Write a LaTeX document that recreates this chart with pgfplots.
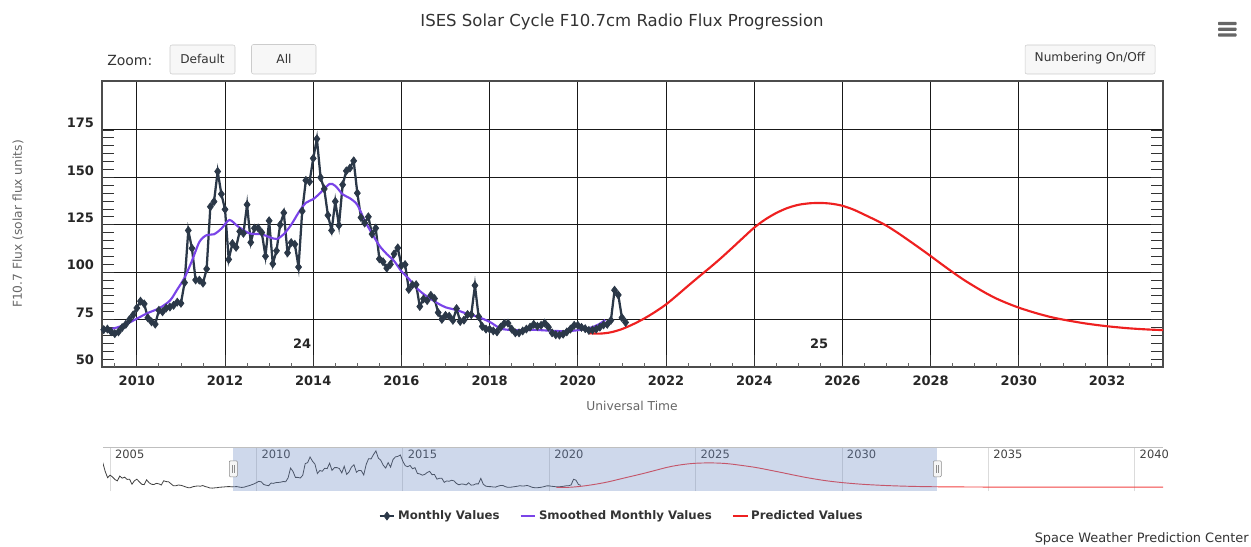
\documentclass[border=0pt]{standalone}
\usepackage{fontspec}
\setmainfont{DejaVu Sans}
\usepackage{pgfplots}
\pgfplotsset{compat=1.18}
\usepackage{pgfplotstable}

\definecolor{monthly}{RGB}{43,56,72}
\definecolor{smoothc}{RGB}{122,68,232}
\definecolor{predc}{RGB}{238,32,32}
\definecolor{txt}{RGB}{51,51,51}
\definecolor{axtitle}{RGB}{102,102,102}
\definecolor{maskc}{RGB}{102,133,194}
\definecolor{btn}{RGB}{247,247,247}
\definecolor{btnb}{RGB}{204,204,204}

\pgfplotstableread{
x y
2004.750 138.0
2004.833 113.2
2004.917 95.0
2005.000 102.2
2005.083 97.2
2005.167 89.9
2005.250 86.0
2005.333 99.5
2005.417 93.7
2005.500 96.4
2005.583 90.2
2005.667 90.8
2005.750 76.7
2005.833 86.3
2005.917 90.8
2006.000 83.4
2006.083 76.5
2006.167 75.5
2006.250 88.9
2006.333 80.9
2006.417 76.5
2006.500 75.8
2006.583 79.0
2006.667 77.8
2006.750 74.3
2006.833 86.3
2006.917 84.0
2007.000 83.5
2007.083 77.8
2007.167 72.2
2007.250 72.4
2007.333 74.4
2007.417 73.7
2007.500 71.6
2007.583 69.1
2007.667 67.0
2007.750 67.0
2007.833 69.7
2007.917 70.9
2008.000 71.9
2008.083 71.0
2008.167 72.9
2008.250 70.2
2008.333 68.4
2008.417 65.9
2008.500 65.7
2008.583 66.5
2008.667 67.1
2008.750 68.3
2008.833 68.6
2008.917 69.2
2009.000 69.8
2009.083 70.0
2009.167 69.2
2009.250 69.7
}\earlydata

\pgfplotstableread{
x y
2009.250 69.7
2009.333 70.0
2009.417 68.6
2009.500 67.6
2009.583 68.5
2009.667 70.8
2009.750 72.5
2009.833 75.0
2009.917 77.5
2010.000 81.1
2010.083 84.7
2010.167 83.3
2010.250 75.9
2010.333 73.8
2010.417 72.6
2010.500 79.9
2010.583 79.1
2010.667 81.1
2010.750 81.6
2010.833 82.5
2010.917 84.2
2011.000 83.6
2011.083 94.5
2011.167 122.0
2011.250 112.6
2011.333 95.9
2011.417 95.8
2011.500 94.2
2011.583 101.7
2011.667 134.5
2011.750 137.2
2011.833 153.1
2011.917 141.2
2012.000 133.1
2012.083 106.7
2012.167 115.1
2012.250 113.1
2012.333 121.5
2012.417 120.5
2012.500 135.6
2012.583 115.7
2012.667 123.2
2012.750 123.3
2012.833 120.9
2012.917 108.4
2013.000 127.1
2013.083 104.4
2013.167 111.3
2013.250 125.0
2013.333 131.3
2013.417 110.2
2013.500 115.6
2013.583 114.7
2013.667 102.7
2013.750 132.2
2013.833 148.4
2013.917 147.7
2014.000 160.0
2014.083 170.3
2014.167 149.9
2014.250 143.9
2014.333 130.0
2014.417 122.0
2014.500 137.3
2014.583 124.7
2014.667 146.1
2014.750 153.4
2014.833 154.9
2014.917 158.7
2015.000 141.7
2015.083 128.8
2015.167 125.9
2015.250 129.2
2015.333 120.1
2015.417 123.2
2015.500 107.0
2015.583 105.5
2015.667 102.1
2015.750 104.1
2015.833 109.6
2015.917 112.8
2016.000 103.5
2016.083 104.0
2016.167 90.9
2016.250 93.3
2016.333 93.4
2016.417 81.9
2016.500 85.9
2016.583 85.0
2016.667 87.8
2016.750 86.1
2016.833 78.7
2016.917 75.1
2017.000 77.2
2017.083 76.8
2017.167 74.6
2017.250 80.8
2017.333 74.0
2017.417 74.7
2017.500 77.7
2017.583 77.6
2017.667 93.0
2017.750 76.6
2017.833 71.4
2017.917 70.0
2018.000 69.9
2018.083 69.0
2018.167 68.5
2018.250 71.0
2018.333 73.0
2018.417 73.1
2018.500 70.0
2018.583 68.0
2018.667 68.0
2018.750 69.0
2018.833 70.0
2018.917 71.0
2019.000 72.5
2019.083 71.5
2019.167 72.0
2019.250 73.2
2019.333 71.0
2019.417 68.0
2019.500 67.0
2019.583 66.8
2019.667 67.3
2019.750 68.5
2019.833 70.0
2019.917 72.0
2020.000 72.0
2020.083 70.9
2020.167 70.2
2020.250 69.3
2020.333 69.5
2020.417 70.0
2020.500 71.0
2020.583 72.2
2020.667 72.5
2020.750 74.6
2020.833 90.5
2020.917 88.0
2021.000 76.0
2021.083 73.5
}\monthlydata

\pgfplotstableread{
x y
2009.25 69.5
2009.50 70.5
2009.75 72.5
2010.00 75.5
2010.25 78.5
2010.50 80.9
2010.75 85.0
2010.92 91.0
2011.08 97.0
2011.25 106.0
2011.42 116.0
2011.58 119.5
2011.75 120.0
2011.92 123.0
2012.10 127.5
2012.30 124.0
2012.55 120.5
2012.83 120.0
2013.00 118.5
2013.17 117.5
2013.33 120.0
2013.50 125.0
2013.67 131.5
2013.83 136.5
2014.00 138.5
2014.17 142.0
2014.37 146.5
2014.50 145.5
2014.67 141.0
2014.83 139.0
2015.00 135.5
2015.17 127.0
2015.33 120.5
2015.50 114.0
2015.67 109.5
2015.83 106.0
2016.00 100.5
2016.17 96.5
2016.33 92.0
2016.50 88.5
2016.67 85.8
2016.83 83.5
2017.00 81.5
2017.25 80.0
2017.50 78.0
2017.75 76.3
2018.00 73.8
2018.25 70.3
2018.50 69.5
2018.75 69.4
2019.00 69.6
2019.25 69.3
2019.50 69.0
2019.75 68.9
2020.00 69.4
2020.17 70.0
2020.33 71.0
2020.50 72.8
2020.62 74.8
}\smootheddata

\pgfplotstableread{
x y
2020.25 67.8
2020.50 67.6
2020.75 68.3
2021.00 70.0
2021.25 72.5
2021.50 75.5
2021.75 79.0
2022.00 83.0
2022.25 87.8
2022.50 92.8
2022.75 97.7
2023.00 102.5
2023.25 107.5
2023.50 112.8
2023.75 118.2
2024.00 123.5
2024.25 127.8
2024.50 131.2
2024.75 133.8
2025.00 135.5
2025.25 136.3
2025.50 136.5
2025.75 136.1
2026.00 135.0
2026.25 133.0
2026.50 130.3
2026.75 127.5
2027.00 124.5
2027.25 120.8
2027.50 116.8
2027.75 112.7
2028.00 108.5
2028.25 104.2
2028.50 100.0
2028.75 96.0
2029.00 92.4
2029.25 89.0
2029.50 86.0
2029.75 83.5
2030.00 81.3
2030.25 79.4
2030.50 77.7
2030.75 76.2
2031.00 75.0
2031.50 73.0
2032.00 71.5
2032.50 70.4
2033.00 69.7
2033.50 69.3
2034.00 69.0
2035.00 68.7
2036.00 68.5
2038.00 68.4
2041.00 68.3
}\predicteddata

\newcommand{\fs}[1]{\fontsize{#1}{1.2\dimexpr#1\relax}\selectfont}

\begin{document}
\begin{tikzpicture}
\useasboundingbox (0,0) rectangle (938.25pt,409.5pt);

\begin{axis}[
  at={(76.5pt,134.25pt)}, anchor=south west,
  scale only axis, width=795.75pt, height=214.5pt,
  xmin=2009.21, xmax=2033.27, ymin=50, ymax=200.8,
  xtick={2010,2012,...,2032},
  xticklabels={2010,2012,2014,2016,2018,2020,2022,2024,2026,2028,2030,2032},
  ytick={50,75,100,125,150,175},
  yticklabels={50,75,100,125,150,175},
  minor y tick num=5,
  xtick pos=left, ytick pos=both,
  tick align=inside,
  major tick length=9pt, minor tick length=9pt,
  tick style={black!80, line width=0.6pt},
  grid=major,
  major grid style={black!90, line width=0.75pt},
  axis line style={black!70, line width=0.85pt},
  extra x ticks={2009.5,2010.5,2011,2011.5,2012.5,2013,2013.5,2014.5,2015,2015.5,2016.5,2017,2017.5,2018.5,2019,2019.5,2020.5,2021,2021.5,2022.5,2023,2023.5,2024.5,2025,2025.5,2026.5,2027,2027.5,2028.5,2029,2029.5,2030.5,2031,2031.5,2032.5,2033},
  extra x tick labels={},
  extra x tick style={grid=none, major tick length=3pt, tick style={black!60, line width=0.6pt}},
  xticklabel style={font=\fs{9.75pt}\bfseries, text=black!85, yshift=-3.2pt},
  yticklabel style={font=\fs{9.75pt}\bfseries, text=black!85, yshift=5.25pt, xshift=-2.5pt},
  legend style={at={(0.49,-0.521)}, anchor=center, draw=none, fill=none,
    legend columns=3, font=\fs{8.8pt}\bfseries, text=txt,
    /tikz/every even column/.append style={column sep=13pt}},
  legend cell align=left,
  legend image code/.code={\draw[mark repeat=2,mark phase=2,#1] plot coordinates {(0pt,0pt) (5.5pt,0pt) (11pt,0pt)};},
]
\addplot[color=monthly, line width=1.7pt, mark=diamond*, mark size=3pt, mark options={solid, fill=monthly, line width=0.5pt}] table[x=x,y=y] {\monthlydata};
\addlegendentry{Monthly Values}
\addplot[color=smoothc, line width=1.6pt, smooth, tension=0.5] table[x=x,y=y] {\smootheddata};
\addlegendentry{Smoothed Monthly Values}
\addplot[color=predc, line width=1.6pt, smooth, tension=0.5] table[x=x,y=y] {\predicteddata};
\addlegendentry{Predicted Values}
\node[font=\fs{9.75pt}\bfseries, text=black!85] at (axis cs:2013.75,62.4) {24};
\node[font=\fs{9.75pt}\bfseries, text=black!85] at (axis cs:2025.47,62.4) {25};
\end{axis}

% navigator
\begin{axis}[
  at={(77.25pt,41.25pt)}, anchor=south west,
  scale only axis, width=795pt, height=33pt,
  xmin=2004.76, xmax=2040.97, ymin=57.6, ymax=181.2,
  axis line style={draw=none},
  ytick=\empty,
  xtick={2005,2010,2015,2020,2025,2030,2035,2040},
  xticklabels={2005,2010,2015,2020,2025,2030,2035,2040},
  xmajorgrids, major grid style={black!14, line width=0.5pt},
  major tick length=0pt,
  xticklabel pos=right,
  xticklabel style={anchor=north west, font=\fs{8.6pt}, text=black!75, xshift=0.3pt, yshift=1pt},
]
\addplot[color=black!75, line width=0.6pt] table[x=x,y=y] {\earlydata};
\addplot[color=black!75, line width=0.6pt] table[x=x,y=y] {\monthlydata};
\addplot[color=predc!85, line width=0.7pt, smooth] table[x=x,y=y] {\predicteddata};
\fill[maskc, opacity=0.32] (axis cs:2009.21,57.6) rectangle (axis cs:2033.26,181.2);
\draw[black!25, line width=0.6pt] (rel axis cs:0,1) -- (rel axis cs:1,1);
\node[draw=black!45, fill=black!4, minimum width=6pt, minimum height=12pt, inner sep=0pt, rounded corners=0.8pt] (h1) at (axis cs:2009.21,120) {};
\node[draw=black!45, fill=black!4, minimum width=6pt, minimum height=12pt, inner sep=0pt, rounded corners=0.8pt] (h2) at (axis cs:2033.26,120) {};
\draw[black!45, line width=0.4pt] ([xshift=-0.9pt,yshift=-3pt]h1.center) -- ([xshift=-0.9pt,yshift=3pt]h1.center);
\draw[black!45, line width=0.4pt] ([xshift=0.9pt,yshift=-3pt]h1.center) -- ([xshift=0.9pt,yshift=3pt]h1.center);
\draw[black!45, line width=0.4pt] ([xshift=-0.9pt,yshift=-3pt]h2.center) -- ([xshift=-0.9pt,yshift=3pt]h2.center);
\draw[black!45, line width=0.4pt] ([xshift=0.9pt,yshift=-3pt]h2.center) -- ([xshift=0.9pt,yshift=3pt]h2.center);
\end{axis}

\begin{scope}[x=0.75pt, y=-0.75pt, shift={(0pt,409.5pt)}]
  \node[font=\fs{12.4pt}, text=txt] at (622,22) {ISES Solar Cycle F10.7cm Radio Flux Progression};
  \foreach \yy in {23.5,29.3,35} {
    \fill[black!60, rounded corners=0.6pt] (1218,\yy-1.6) rectangle (1236.5,\yy+1.6);
  }
  \node[font=\fs{10.5pt}, text=txt, anchor=west, inner sep=0pt] at (107,60.5) {Zoom:};
  \draw[btnb, fill=btn, rounded corners=1.5pt] (170,45) rectangle (235,74);
  \node[font=\fs{9.1pt}, text=txt] at (202.5,58.5) {Default};
  \draw[btnb, fill=btn, rounded corners=1.5pt] (251.5,44.5) rectangle (316,74);
  \node[font=\fs{9.1pt}, text=txt] at (284,58.5) {All};
  \draw[btnb, fill=btn, rounded corners=1.5pt] (1025,45) rectangle (1155,74);
  \node[font=\fs{9.1pt}, text=txt] at (1090,58.5) {Numbering On/Off};
  \node[font=\fs{9.2pt}, text=axtitle, rotate=90] at (18,224) {F10.7 Flux (solar flux units)};
  \node[font=\fs{9.2pt}, text=axtitle] at (632,406) {Universal Time};
  \node[font=\fs{9.7pt}, text=txt, anchor=east, inner sep=0pt] at (1249,538.5) {Space Weather Prediction Center};
\end{scope}
\end{tikzpicture}
\end{document}
